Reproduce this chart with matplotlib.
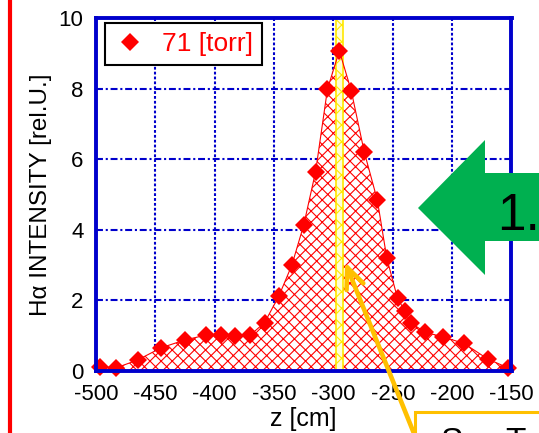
import matplotlib.pyplot as plt
from matplotlib.patches import Polygon, Rectangle, FancyArrowPatch
from matplotlib.lines import Line2D

plt.rcParams['font.family'] = ['Liberation Sans', 'DejaVu Sans']
plt.rcParams['axes.unicode_minus'] = False
plt.rcParams['lines.scale_dashes'] = False
plt.rcParams['hatch.linewidth'] = 0.8

# Data
z_cm = [-497, -483, -465, -445, -425, -407, -395, -383, -370, -358,
        -346, -335, -325, -315, -305, -295, -285, -274, -263, -255,
        -246, -240, -235, -223, -208, -190, -170, -153]
intensity = [0.12, 0.09, 0.31, 0.66, 0.88, 1.02, 1.02, 1.00, 1.02, 1.37,
             2.12, 3.00, 4.14, 5.65, 7.99, 9.07, 7.94, 6.20, 4.84, 3.19,
             2.06, 1.71, 1.37, 1.10, 0.97, 0.78, 0.34, 0.09]
series_label = '71 [torr]'
band = (-298, -292)
x_ticks = [-500, -450, -400, -350, -300, -250, -200, -150]
y_ticks = [0, 2, 4, 6, 8, 10]

W, H = 539, 433
fig = plt.figure(figsize=(W / 100, H / 100), dpi=100)
ax = fig.add_axes([96 / W, 1 - 371 / H, 415.5 / W, 353 / H])

blue = '#0000CC'
red = '#FF0000'

ax.fill_between(z_cm, 0, intensity, facecolor='white', edgecolor=red,
                hatch='xxx', linewidth=0, zorder=2)
ax.axvspan(band[0], band[1], facecolor='#FFFFD8', edgecolor='#FFE800',
           hatch='xx', linewidth=1.2, zorder=3)
ax.plot(z_cm, intensity, color=red, lw=0.8, zorder=4)
ax.plot(z_cm, intensity, ls='none', marker='D', ms=9, color=red,
        markeredgewidth=0, zorder=5, clip_on=False)

ax.set_xlim(-500, -150)
ax.set_ylim(0, 10)
ax.set_xticks(x_ticks)
ax.set_yticks(y_ticks)
ax.tick_params(length=0, labelsize=16, pad=9)

for sp in ax.spines.values():
    sp.set_color(blue)
    sp.set_linewidth(2.8)
    sp.set_zorder(6)

for y in y_ticks[1:-1]:
    ax.axhline(y, color=blue, lw=1.5, ls=(0, (5, 2, 1.5, 2)), zorder=1)
for x in x_ticks[1:-1]:
    ax.axvline(x, color=blue, lw=1.5, ls=(0, (2, 1.5)), zorder=1)

ax.set_xlabel('z [cm]', fontsize=18, labelpad=2)
ax.set_ylabel('H\u03b1 INTENSITY [rel.U.]', fontsize=17.5, labelpad=5)

handle = Line2D([], [], ls='none', marker='D', ms=9, color=red, markeredgewidth=0)
leg = ax.legend([handle], [series_label], loc='upper left',
                bbox_to_anchor=(0.022, 0.986), borderaxespad=0, fontsize=19,
                fancybox=False, framealpha=1, edgecolor='black',
                handlelength=1.2, handletextpad=0.6, borderpad=0.35,
                labelcolor=red)
leg.get_frame().set_linewidth(1.5)
leg.set_zorder(7)

# slide decorations around the chart
def fx(px):
    return px / W

def fy(py):
    return 1 - py / H

fig.add_artist(Line2D([fx(9.5), fx(9.5)], [0, 1], color=red, lw=3))

arrow_pts = [(418, 208), (485, 140), (485, 173), (545, 173), (545, 241),
             (485, 241), (485, 275)]
fig.add_artist(Polygon([(fx(a), fy(b)) for a, b in arrow_pts], closed=True,
                       facecolor='#00B050', edgecolor='none'))
fig.text(fx(497), fy(230), '1.', fontsize=37, color='black', va='baseline')

fig.add_artist(Rectangle((fx(415), -0.2), 0.5, 0.2 + fy(411.7),
                         facecolor='white', edgecolor='#FFC000', lw=2.2))
fig.text(fx(440), fy(427), 'S', fontsize=24, va='top')
fig.text(fx(505), fy(427), 'T', fontsize=24, va='top')

fig.add_artist(FancyArrowPatch((fx(415), fy(436)), (fx(345), fy(262)),
                               transform=fig.transFigure,
                               arrowstyle='->,head_length=15,head_width=6.5',
                               mutation_scale=1, color='#FFC000', lw=3.3,
                               shrinkA=0, shrinkB=0))

fig.savefig('out.png', dpi=100)
